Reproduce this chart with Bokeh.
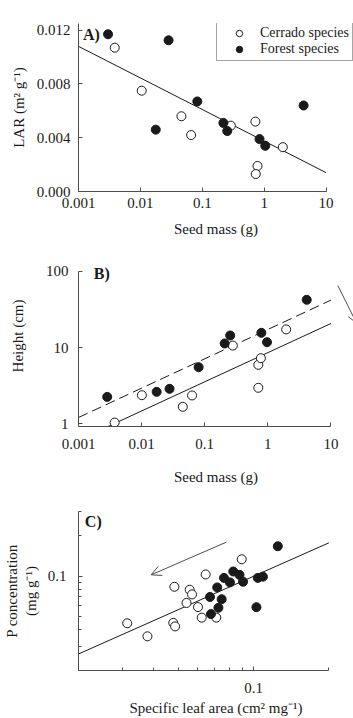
from bokeh.plotting import figure
from bokeh.layouts import column
from bokeh.models import (FixedTicker, CustomJSTickFormatter, Label, Legend,
                          LegendItem, Arrow, OpenHead)
from bokeh.embed import file_html
from bokeh.resources import INLINE

# ---------------- data ----------------
# A) leaf area ratio against seed mass
cerrado_seed_a = [0.00385, 0.0105, 0.046, 0.066, 0.289, 0.72, 0.78, 0.73, 2.0]
cerrado_lar = [0.0107, 0.0075, 0.0056, 0.0042, 0.0049, 0.0052, 0.0019, 0.0013, 0.0033]
forest_seed_a = [0.0030, 0.0285, 0.083, 0.0177, 0.219, 0.253, 0.84, 1.04, 4.33]
forest_lar = [0.0117, 0.01125, 0.0067, 0.0046, 0.0051, 0.0045, 0.0039, 0.0034, 0.0064]
fit_a_x = [0.001, 10]
fit_a_y = [0.0108, 0.0014]

# B) seedling height against seed mass
cerrado_seed_b = [0.00374, 0.0101, 0.0449, 0.063, 0.279, 0.706, 0.776, 0.706, 1.95]
cerrado_height = [1.03, 2.36, 1.66, 2.34, 10.6, 5.92, 7.24, 2.95, 17.3]
forest_seed_b = [0.00285, 0.0173, 0.0277, 0.080, 0.207, 0.253, 0.79, 0.97, 4.13]
forest_height = [2.24, 2.61, 2.86, 5.51, 11.3, 14.4, 15.6, 11.75, 42.4]
fit_b_cerrado_x = [0.001, 10]
fit_b_cerrado_y = [0.605, 20.7]
fit_b_forest_x = [0.001, 10]
fit_b_forest_y = [1.2, 42.0]

# C) leaf P concentration against specific leaf area
cerrado_sla = [0.0313, 0.0377, 0.0483, 0.0478, 0.0486, 0.0556, 0.0568, 0.054,
               0.060, 0.0621, 0.0644, 0.071, 0.0897]
cerrado_p = [0.0447, 0.0358, 0.0832, 0.045, 0.0424, 0.0792, 0.0731, 0.0632,
             0.0589, 0.0492, 0.1027, 0.0492, 0.133]
forest_sla = [0.125, 0.083, 0.0879, 0.0908, 0.0762, 0.0805, 0.0716, 0.0746,
              0.067, 0.0724, 0.0676, 0.104, 0.109, 0.1027]
forest_p = [0.166, 0.108, 0.102, 0.0907, 0.0968, 0.0897, 0.0823, 0.0673,
            0.070, 0.0582, 0.0523, 0.0968, 0.0989, 0.0588]
fit_c_x = [0.02, 0.2]
fit_c_y = [0.0265, 0.176]

# tick values and their labels
seed_ticks = [0.001, 0.01, 0.1, 1, 10]
seed_labels = ["0.001", "0.01", "0.1", "1", "10"]
lar_ticks = [0.0, 0.004, 0.008, 0.012]
lar_labels = ["0.000", "0.004", "0.008", "0.012"]
height_ticks = [1, 10, 100]
height_labels = ["1", "10", "100"]
c_ticks = [0.1]
c_labels = ["0.1"]
c_minor_x = [0.02, 0.03, 0.04, 0.05, 0.06, 0.07, 0.08, 0.09, 0.2]
c_minor_y = [0.02, 0.03, 0.04, 0.05, 0.06, 0.07, 0.08, 0.09, 0.2, 0.3]

# arrows (start, end)
arrow_b = ((12.9, 64.8), (25.3, 21.1))
arrow_c = ((0.0779, 0.178), (0.039, 0.102))

SERIF = "Liberation Serif"
INK = "#1a1a1a"
AXIS = "#4d4d4d"
MS = 9
FS = "15px"


def labelled(ticks, labels, minor=None):
    ticker = FixedTicker(ticks=ticks, minor_ticks=minor or [])
    fmt = CustomJSTickFormatter(args=dict(labels=labels),
                                code="return labels[index]")
    return ticker, fmt


def style(p):
    for ax in p.axis:
        ax.axis_line_color = AXIS
        ax.major_tick_line_color = AXIS
        ax.minor_tick_line_color = AXIS
        ax.major_tick_in = 4
        ax.major_tick_out = 0
        ax.minor_tick_in = 3
        ax.minor_tick_out = 0
        ax.major_label_text_font = SERIF
        ax.major_label_text_font_size = FS
        ax.major_label_text_color = INK
        ax.axis_label_text_font = SERIF
        ax.axis_label_text_font_size = FS
        ax.axis_label_text_font_style = "normal"
        ax.axis_label_text_color = INK
    p.grid.visible = False
    p.outline_line_color = None
    p.background_fill_color = "white"
    p.border_fill_color = "white"


def tag(p, text, x, y):
    p.add_layout(Label(x=x, y=y, text=text, text_font=SERIF, text_font_size="16px",
                       text_font_style="bold", text_color=INK,
                       text_baseline="middle", text_align="left"))


# ---------------- panel A ----------------
# the frame runs to the right edge so the legend has room; the x axis stops at 10
pa = figure(width=353, height=240, x_axis_type="log", x_range=(0.001, 27.7),
            y_range=(0, 0.0125), output_backend="svg", toolbar_location=None,
            min_border_left=72, min_border_right=0, min_border_top=23,
            min_border_bottom=49)
pa.line(fit_a_x, fit_a_y, line_color=INK, line_width=1)
ra_c = pa.scatter(cerrado_seed_a, cerrado_lar, size=MS, fill_color="white",
                  line_color=INK, line_width=1)
ra_f = pa.scatter(forest_seed_a, forest_lar, size=MS, fill_color=INK,
                  line_color=INK, line_width=1)
t, f = labelled(seed_ticks, seed_labels)
pa.xaxis.ticker, pa.xaxis.formatter = t, f
pa.xaxis.bounds = (0.001, 10)
t, f = labelled(lar_ticks, lar_labels)
pa.yaxis.ticker, pa.yaxis.formatter = t, f
pa.xaxis.axis_label = "Seed mass (g)"
pa.yaxis.axis_label = "LAR (m² g⁻¹)"
style(pa)
pa.xaxis.major_label_standoff = 6
pa.xaxis.axis_label_standoff = 10
pa.yaxis.major_label_standoff = 8
pa.yaxis.axis_label_standoff = 7
tag(pa, "A)", 0.00118, 0.0117)
legend = Legend(items=[LegendItem(label="Cerrado species", renderers=[ra_c]),
                       LegendItem(label="Forest species", renderers=[ra_f])],
                location=(138, 130), label_text_font=SERIF,
                label_text_font_size="14px", label_text_color=INK,
                label_height=16, glyph_height=16, glyph_width=38,
                label_standoff=2, padding=3, spacing=0, margin=0,
                border_line_color=AXIS, border_line_width=1,
                background_fill_color="white", background_fill_alpha=1)
pa.add_layout(legend)

# ---------------- panel B ----------------
pb = figure(width=353, height=250, x_axis_type="log", y_axis_type="log",
            x_range=(0.001, 22.75), y_range=(0.914, 219.6),
            output_backend="svg", toolbar_location=None,
            min_border_left=69, min_border_right=0, min_border_top=5,
            min_border_bottom=64)
pb.line(fit_b_forest_x, fit_b_forest_y, line_color=INK, line_width=1,
        line_dash="10 5")
pb.line(fit_b_cerrado_x, fit_b_cerrado_y, line_color=INK, line_width=1)
pb.scatter(cerrado_seed_b, cerrado_height, size=MS, fill_color="white",
           line_color=INK, line_width=1)
pb.scatter(forest_seed_b, forest_height, size=MS, fill_color=INK,
           line_color=INK, line_width=1)
t, f = labelled(seed_ticks, seed_labels)
pb.xaxis.ticker, pb.xaxis.formatter = t, f
pb.xaxis.bounds = (0.001, 10)
t, f = labelled(height_ticks, height_labels)
pb.yaxis.ticker, pb.yaxis.formatter = t, f
pb.yaxis.bounds = (0.914, 100)
pb.xaxis.axis_label = "Seed mass (g)"
pb.yaxis.axis_label = "Height (cm)"
style(pb)
pb.xaxis.major_label_standoff = 12
pb.xaxis.axis_label_standoff = 17
pb.yaxis.major_label_standoff = 10
pb.yaxis.axis_label_standoff = 17
tag(pb, "B)", 0.00175, 94)
(bx0, by0), (bx1, by1) = arrow_b
pb.add_layout(Arrow(x_start=bx0, y_start=by0, x_end=bx1, y_end=by1,
                    line_color=AXIS, line_width=1,
                    end=OpenHead(size=9, line_color=AXIS, line_width=1)))

# ---------------- panel C ----------------
pc = figure(width=353, height=228, x_axis_type="log", y_axis_type="log",
            x_range=(0.02, 0.2507), y_range=(0.02, 0.3),
            output_backend="svg", toolbar_location=None,
            min_border_left=73, min_border_right=0, min_border_top=21,
            min_border_bottom=42)
pc.line(fit_c_x, fit_c_y, line_color=INK, line_width=1)
pc.scatter(cerrado_sla, cerrado_p, size=MS, fill_color="white",
           line_color=INK, line_width=1)
pc.scatter(forest_sla, forest_p, size=MS, fill_color=INK,
           line_color=INK, line_width=1)
t, f = labelled(c_ticks, c_labels, c_minor_x)
pc.xaxis.ticker, pc.xaxis.formatter = t, f
pc.xaxis.bounds = (0.02, 0.2)
t, f = labelled(c_ticks, c_labels, c_minor_y)
pc.yaxis.ticker, pc.yaxis.formatter = t, f
pc.xaxis.axis_label = "Specific leaf area (cm² mg⁻¹)"
pc.yaxis.axis_label = "P concentration\n(mg g⁻¹)"
style(pc)
pc.xaxis.major_label_standoff = 12
pc.xaxis.axis_label_standoff = 4
pc.yaxis.major_label_standoff = 12
pc.yaxis.axis_label_standoff = 6
tag(pc, "C)", 0.0212, 0.251)
(cx0, cy0), (cx1, cy1) = arrow_c
pc.add_layout(Arrow(x_start=cx0, y_start=cy0, x_end=cx1, y_end=cy1,
                    line_color=AXIS, line_width=1,
                    end=OpenHead(size=10, line_color=AXIS, line_width=1)))

layout = column(pa, pb, pc, spacing=0)
open("out.html", "w").write(file_html(layout, INLINE))
